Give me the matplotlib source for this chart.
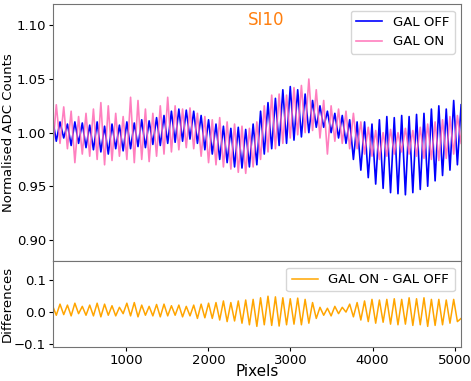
import matplotlib
matplotlib.use("Agg")
import matplotlib.pyplot as plt
import numpy as np

# extrema, one peak/trough pair per oscillation cycle (~90 px)
gal_off = [1.013, 0.992, 1.010, 0.995, 1.008, 0.988, 1.010, 0.990, 1.009, 0.986,
           1.007, 0.984, 1.010, 0.982, 1.006, 0.980, 1.008, 0.985, 1.007, 0.983,
           1.010, 0.985, 1.009, 0.987, 1.012, 0.986, 1.011, 0.989, 1.014, 0.988,
           1.016, 0.990, 1.020, 0.991, 1.022, 0.992, 1.021, 0.994, 1.020, 0.990,
           1.016, 0.984, 1.012, 0.980, 1.008, 0.975, 1.006, 0.972, 1.004, 0.968,
           1.005, 0.967, 1.003, 0.968, 1.008, 0.970, 1.020, 0.980, 1.028, 0.985,
           1.032, 0.988, 1.040, 0.990, 1.043, 0.993, 1.040, 0.996, 1.036, 1.000,
           1.030, 1.005, 1.025, 1.005, 1.020, 1.000, 1.018, 0.995, 1.016, 0.990,
           1.012, 0.975, 1.010, 0.965, 1.010, 0.958, 1.008, 0.952, 1.012, 0.948,
           1.015, 0.944, 1.014, 0.943, 1.016, 0.942, 1.015, 0.944, 1.017, 0.947,
           1.018, 0.950, 1.022, 0.955, 1.025, 0.960, 1.022, 0.965, 1.030, 0.970,
           1.026]

gal_on = [0.984, 1.026, 0.990, 1.024, 0.985, 1.020, 0.972, 1.015, 0.980, 1.018,
          0.978, 1.022, 0.975, 1.028, 0.970, 1.025, 0.974, 1.018, 0.978, 1.015,
          0.975, 1.033, 0.972, 1.030, 0.975, 1.022, 0.973, 1.018, 0.978, 1.025,
          0.980, 1.033, 0.982, 1.025, 0.984, 1.022, 0.986, 1.023, 0.985, 1.018,
          0.978, 1.015, 0.972, 1.012, 0.970, 1.014, 0.968, 1.010, 0.966, 1.008,
          0.963, 1.006, 0.962, 1.004, 0.968, 1.010, 0.975, 1.025, 0.982, 1.035,
          0.985, 1.036, 0.990, 1.035, 0.995, 1.042, 0.998, 1.044, 1.000, 1.050,
          1.002, 1.040, 0.995, 1.030, 0.980, 1.025, 0.992, 1.022, 0.990, 1.020,
          0.985, 1.018, 0.985, 1.010, 0.980, 1.005, 0.978, 1.002, 0.975, 1.000,
          0.978, 1.003, 0.980, 1.000, 0.982, 1.004, 0.980, 1.002, 0.978, 1.005,
          0.976, 1.008, 0.975, 1.010, 0.974, 1.012, 0.976, 1.015, 0.980, 1.016,
          0.990]

diff = [0.020, -0.010, 0.025, -0.008, 0.022, -0.012, 0.028, -0.005, 0.018, -0.010,
        0.022, -0.012, 0.028, -0.015, 0.025, -0.010, 0.020, -0.012, 0.015, -0.005,
        0.028, -0.012, 0.030, -0.015, 0.022, -0.010, 0.018, -0.012, 0.024, -0.015,
        0.025, -0.012, 0.020, -0.010, 0.022, -0.015, 0.018, -0.012, 0.022, -0.020,
        0.025, -0.018, 0.028, -0.020, 0.030, -0.025, 0.035, -0.030, 0.030, -0.028,
        0.035, -0.035, 0.038, -0.040, 0.040, -0.045, 0.045, -0.040, 0.050, -0.042,
        0.048, -0.044, 0.045, -0.040, 0.042, -0.038, 0.044, -0.040, 0.040, -0.035,
        0.030, -0.020, 0.015, -0.010, 0.012, -0.012, 0.018, -0.005, 0.015, 0.000,
        0.025, -0.015, 0.030, -0.025, 0.035, -0.030, 0.040, -0.035, 0.038, -0.032,
        0.040, -0.038, 0.042, -0.040, 0.040, -0.038, 0.045, -0.042, 0.042, -0.040,
        0.045, -0.045, 0.040, -0.042, 0.040, -0.040, 0.038, -0.035, 0.040, -0.030,
        -0.020]

pix_start, pix_end = 100, 5080
pixels = np.linspace(pix_start, pix_end, len(gal_off))

fig = plt.figure(figsize=(4.71, 3.81), dpi=100)
gs = fig.add_gridspec(2, 1, height_ratios=[3, 1], hspace=0,
                      left=0.1125, right=0.979, top=0.9895, bottom=0.0892)
ax = fig.add_subplot(gs[0])
ax2 = fig.add_subplot(gs[1], sharex=ax)

ax.plot(pixels, gal_off, color='blue', lw=1.2, label='GAL OFF')
ax.plot(pixels, gal_on, color='hotpink', lw=1.2, alpha=0.85, label='GAL ON')
ax.set_ylim(0.88, 1.12)
ax.set_yticks([0.90, 0.95, 1.00, 1.05, 1.10])
ax.set_ylabel('Normalised ADC Counts', fontsize=9.5, labelpad=1)
ax.text(2700, 1.105, 'SI10', color='#ff7f0e', fontsize=12, ha='center', va='center')
ax.legend(loc='upper right', fontsize=9.5, handlelength=2.0)
ax.tick_params(axis='x', labelbottom=False, length=0)

ax2.plot(pixels, diff, color='orange', lw=1.1, label='GAL ON - GAL OFF')
ax2.set_ylim(-0.11, 0.16)
ax2.set_yticks([-0.1, 0.0, 0.1])
ax2.set_ylabel('Differences', fontsize=9.5, labelpad=0)
ax2.set_xlabel('Pixels', fontsize=11, labelpad=-2)
ax2.set_xlim(105, 5080)
ax2.set_xticks([1000, 2000, 3000, 4000, 5000])
ax2.legend(loc='upper right', fontsize=9.5, handlelength=2.0)

for a in (ax, ax2):
    a.tick_params(labelsize=9.5, length=3, pad=2)
    for s in a.spines.values():
        s.set_color('0.45')

fig.savefig('out.png', dpi=100)
